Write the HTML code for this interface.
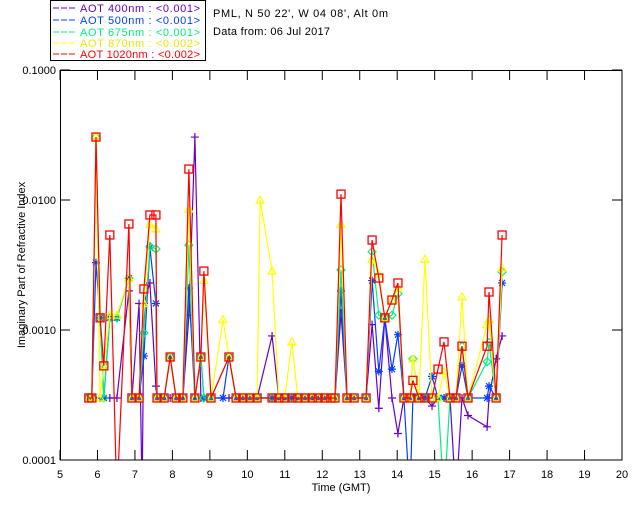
<!DOCTYPE html>
<html><head><meta charset="utf-8"><style>
body{margin:0;background:#fff;}
svg{display:block;font-family:"Liberation Sans",sans-serif;}
</style></head><body>
<svg id="chart" width="640" height="512" viewBox="0 0 640 512" xmlns="http://www.w3.org/2000/svg">
<rect x="0" y="0" width="640" height="512" fill="#fff"/>
<g>
<rect x="50.5" y="0.5" width="155" height="60" fill="#fff" stroke="#000"/>
<g font-size="11">
<g><line x1="53" y1="8" x2="75" y2="8" stroke="#6a00c8" stroke-dasharray="6,2"/><text x="80" y="12" fill="#6a00c8" textLength="120" lengthAdjust="spacing">AOT  400nm : &lt;0.001&gt;</text></g>
<g><line x1="53" y1="20" x2="75" y2="20" stroke="#0040ff" stroke-dasharray="6,2"/><text x="80" y="24" fill="#0040ff" textLength="120" lengthAdjust="spacing">AOT  500nm : &lt;0.001&gt;</text></g>
<g><line x1="53" y1="32" x2="75" y2="32" stroke="#00f080" stroke-dasharray="6,2"/><text x="80" y="36" fill="#00f080" textLength="120" lengthAdjust="spacing">AOT  675nm : &lt;0.001&gt;</text></g>
<g><line x1="53" y1="43" x2="75" y2="43" stroke="#ffff00" stroke-dasharray="6,2"/><text x="80" y="47" fill="#e8e800" textLength="120" lengthAdjust="spacing">AOT  870nm : &lt;0.002&gt;</text></g>
<g><line x1="53" y1="54" x2="75" y2="54" stroke="#ff0000" stroke-dasharray="6,2"/><text x="80" y="58" fill="#ff0000" textLength="120" lengthAdjust="spacing">AOT 1020nm : &lt;0.002&gt;</text></g>
</g></g>
<text x="213" y="17" font-size="11" textLength="175" lengthAdjust="spacing">PML, N 50 22', W 04 08', Alt 0m</text>
<text x="213" y="35" font-size="11" textLength="117" lengthAdjust="spacing">Data from: 06 Jul 2017</text>
<defs><clipPath id="pc"><rect x="60" y="70" width="562" height="390"/></clipPath></defs>
<g id="axes"></g>
<g id="series" clip-path="url(#pc)"></g>
<rect x="60.5" y="70.5" width="561.5" height="389.5" fill="none" stroke="#000"/>
<text x="341" y="491" font-size="11" text-anchor="middle">Time (GMT)</text>
<text transform="translate(25,265) rotate(-90)" font-size="11" text-anchor="middle">Imaginary Part of Refractive Index</text>
</svg>
<script>
const times=[5.77,5.85,5.96,6.07,6.17,6.33,6.52,6.84,6.92,7.11,7.19,7.24,7.32,7.40,7.48,7.56,7.59,7.78,7.94,8.10,8.28,8.44,8.60,8.76,8.84,9.03,9.35,9.51,9.70,9.88,10.07,10.26,10.34,10.66,10.84,11.00,11.19,11.35,11.54,11.73,11.89,12.07,12.23,12.34,12.50,12.66,12.85,13.17,13.33,13.51,13.67,13.86,14.02,14.18,14.34,14.42,14.58,14.74,14.93,15.09,15.25,15.41,15.57,15.73,15.89,16.40,16.45,16.64,16.80];
const aot400=[3e-4,3e-4,3e-4,3e-4,3e-4,3e-4,3e-4,0.002,3e-4,0.0016,0.00005,0.0016,null,0.0023,null,0.00037,3e-4,3e-4,3e-4,3e-4,3e-4,0.0013,0.0305,3e-4,3e-4,3e-4,null,3e-4,3e-4,3e-4,3e-4,3e-4,null,0.0009,3e-4,3e-4,3e-4,3e-4,3e-4,3e-4,3e-4,3e-4,3e-4,3e-4,0.00135,3e-4,3e-4,3e-4,0.0011,0.00025,0.00124,3e-4,0.00016,3e-4,3e-4,3e-4,3e-4,3e-4,0.00026,3e-4,3e-4,3e-4,0.00005,3e-4,0.00022,0.00018,3e-4,0.0006,0.0009];
const aot500=[3e-4,3e-4,0.0033,0.00124,3e-4,0.00124,0.00124,0.0025,3e-4,3e-4,null,0.00063,null,0.0043,null,0.0016,3e-4,3e-4,0.00062,3e-4,3e-4,0.0021,3e-4,0.00062,3e-4,3e-4,3e-4,0.00062,3e-4,3e-4,3e-4,3e-4,null,3e-4,3e-4,3e-4,3e-4,3e-4,3e-4,3e-4,3e-4,3e-4,3e-4,3e-4,0.002,3e-4,3e-4,3e-4,0.0024,0.00048,0.00124,0.0005,0.00092,3e-4,0.00005,3e-4,3e-4,3e-4,0.00044,3e-4,3e-4,3e-4,3e-4,0.00053,3e-4,3e-4,0.00037,3e-4,0.0023];
const aot675=[3e-4,3e-4,0.0305,0.00124,3e-4,0.00124,0.00124,0.0025,3e-4,3e-4,null,0.00095,null,0.0044,null,0.0042,3e-4,3e-4,0.00062,3e-4,3e-4,0.0045,3e-4,0.00062,3e-4,3e-4,null,0.00062,3e-4,3e-4,3e-4,3e-4,null,3e-4,3e-4,3e-4,3e-4,3e-4,3e-4,3e-4,3e-4,3e-4,3e-4,3e-4,0.0029,3e-4,3e-4,3e-4,0.004,0.0013,0.00124,0.0013,0.0019,3e-4,3e-4,0.0006,3e-4,3e-4,3e-4,3e-4,0.00005,3e-4,3e-4,0.00075,3e-4,0.00057,0.0008,3e-4,0.0028];
const aot870=[3e-4,3e-4,0.0305,3e-4,0.00053,0.0013,0.0013,0.0025,3e-4,3e-4,null,0.0016,null,0.0065,null,0.006,3e-4,3e-4,0.00062,3e-4,3e-4,0.0085,3e-4,0.00062,0.0024,3e-4,0.0012,0.00062,3e-4,3e-4,3e-4,3e-4,0.01,0.00284,3e-4,3e-4,0.00081,3e-4,3e-4,3e-4,3e-4,3e-4,3e-4,3e-4,0.0065,3e-4,3e-4,3e-4,0.0035,0.0027,0.00124,0.0017,0.0021,3e-4,3e-4,0.0006,3e-4,0.0035,3e-4,3e-4,0.00048,3e-4,3e-4,0.0018,3e-4,0.0011,0.0012,3e-4,0.003];
const aot1020=[3e-4,3e-4,0.0305,0.00124,0.00053,0.00538,0.00005,0.00654,3e-4,3e-4,null,0.00207,null,0.00767,null,0.00767,3e-4,3e-4,0.00062,3e-4,3e-4,0.0173,3e-4,0.00062,0.00284,3e-4,null,0.00062,3e-4,3e-4,3e-4,3e-4,null,3e-4,3e-4,3e-4,3e-4,3e-4,3e-4,3e-4,3e-4,3e-4,3e-4,3e-4,0.0111,3e-4,3e-4,3e-4,0.00492,0.00251,0.00124,0.0017,0.0023,3e-4,3e-4,0.00041,3e-4,3e-4,3e-4,0.0005,0.00081,3e-4,3e-4,0.00075,3e-4,0.00075,0.00196,3e-4,0.00538];
const xTicks=[5,6,7,8,9,10,11,12,13,14,15,16,17,18,19,20];
const yTicks=[0.0001,0.001,0.01,0.1];
const yTickLabels=["0.0001","0.0010","0.0100","0.1000"];

const NS="http://www.w3.org/2000/svg";
const X0=60,X1=622,Y0=460,Y1=70,TMIN=5,TMAX=20,LMIN=-4,LMAX=-1;
function xs(t){return X0+(t-TMIN)/(TMAX-TMIN)*(X1-X0);}
function ys(v){return Y0-(Math.log10(v)-LMIN)/(LMAX-LMIN)*(Y0-Y1);}
function mk(tag,attrs,parent){const e=document.createElementNS(NS,tag);for(const k in attrs)e.setAttribute(k,attrs[k]);parent.appendChild(e);return e;}
const axes=document.getElementById('axes');
xTicks.forEach(t=>{
  const x=xs(t);
  const g=mk('g',{},axes);
  
  
  mk('line',{x1:x,y1:Y0,x2:x,y2:Y0-10,stroke:'#000'},g);
  mk('line',{x1:x,y1:Y1,x2:x,y2:Y1+10,stroke:'#000'},g);
  const tx=mk('text',{x:x,y:Y0+18,'font-size':11,'text-anchor':'middle'},g);
  tx.textContent=String(t);
});
yTicks.forEach((v,i)=>{
  const y=ys(v);
  const g=mk('g',{},axes);
  
  
  mk('line',{x1:X0,y1:y,x2:X0+10,y2:y,stroke:'#000'},g);
  mk('line',{x1:X1,y1:y,x2:X1-10,y2:y,stroke:'#000'},g);
  const tx=mk('text',{x:X0-4,y:y+4,'font-size':11,'text-anchor':'end'},g);
  tx.textContent=yTickLabels[i];
});
const ser=document.getElementById('series');
const defs=[
 {vals:aot400,color:'#6a00c8',m:'plus',name:'series-aot-400'},
 {vals:aot500,color:'#0040ff',m:'star',name:'series-aot-500'},
 {vals:aot675,color:'#00f080',m:'diamond',name:'series-aot-675'},
 {vals:aot870,color:'#ffff00',m:'tri',name:'series-aot-870'},
 {vals:aot1020,color:'#ff0000',m:'square',name:'series-aot-1020'}
];
defs.forEach(d=>{
  const g=mk('g',{},ser);
  
  
  const pts=[];
  times.forEach((t,i)=>{const v=d.vals[i];if(v!=null&&v>0)pts.push([xs(t),ys(v)]);});
  const pl=mk('polyline',{points:pts.map(p=>p[0].toFixed(1)+','+p[1].toFixed(1)).join(' '),fill:'none',stroke:d.color,'stroke-width':1.2},g);
  
  
  pts.forEach(p=>{
    const [x,y]=p;if(y>Y0+2)return;
    let e;
    if(d.m==='square'){e=mk('rect',{x:x-4,y:y-4,width:8,height:8,fill:'none',stroke:d.color,'stroke-width':1.3},g);}
    else if(d.m==='tri'){e=mk('polygon',{points:`${x},${y-4} ${x-4},${y+3} ${x+4},${y+3}`,fill:'none',stroke:d.color,'stroke-width':1.2},g);}
    else if(d.m==='diamond'){e=mk('polygon',{points:`${x},${y-4} ${x+4},${y} ${x},${y+4} ${x-4},${y}`,fill:'none',stroke:d.color,'stroke-width':1.2},g);}
    else if(d.m==='star'){e=mk('path',{d:`M${x-4} ${y}H${x+4}M${x} ${y-4}V${y+4}M${x-3} ${y-3}L${x+3} ${y+3}M${x-3} ${y+3}L${x+3} ${y-3}`,stroke:d.color,'stroke-width':1.2},g);}
    else {e=mk('path',{d:`M${x-4} ${y}H${x+4}M${x} ${y-4}V${y+4}`,stroke:d.color,'stroke-width':1.2},g);}
    
    
  });
});
</script>
</body></html>
